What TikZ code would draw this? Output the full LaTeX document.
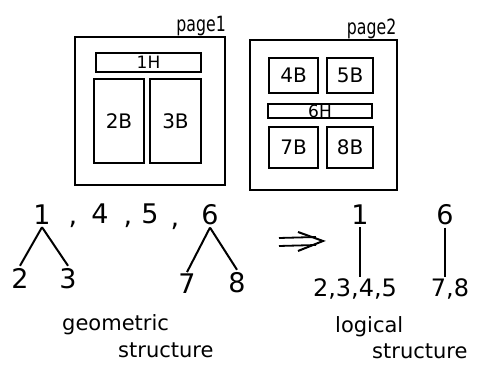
\documentclass[tikz,border=0pt]{standalone}
\usepackage{fontspec}
\setmainfont{DejaVu Sans}
\usetikzlibrary{positioning,arrows.meta,calc}

\begin{document}
\begin{tikzpicture}[x=1pt,y=-1pt,
  frame/.style={draw,line width=2pt,inner sep=0pt},
  blk/.style={draw,line width=1.8pt,inner sep=0pt,font=\fontsize{20}{22}\selectfont},
  hdr/.style={draw,line width=1.6pt,inner sep=0pt,font=\fontsize{17}{17}\selectfont},
  tag/.style={inner sep=0pt,transform shape,xscale=0.75,font=\fontsize{21}{22}\selectfont},
  num/.style={anchor=base,inner sep=2pt,font=\fontsize{27}{28}\selectfont},
  lst/.style={anchor=base,inner sep=2pt,font=\fontsize{24}{26}\selectfont},
  lbl/.style={anchor=base west,inner sep=0pt,font=\fontsize{21}{24}\selectfont},
  edge/.style={line width=2pt}]
  \useasboundingbox (0,0) rectangle (487,371);
  % page 1
  \node[frame,minimum width=150,minimum height=148] (p1) at (150,111) {};
  \node[tag,anchor=south east] (t1) at (p1.north east) {page1};
  \node[hdr,minimum width=105,minimum height=19] (h1) at (148.5,62.5) {1H};
  \node[blk,minimum width=50,minimum height=84] (b2) at (119,121) {2B};
  \node[blk,minimum width=51,minimum height=84] (b3) at (175.5,121) {3B};
  % page 2
  \node[frame,minimum width=147,minimum height=150] (p2) at (323.5,115) {};
  \node[tag,anchor=south east,xshift=-2] (t2) at (p2.north east) {page2};
  \node[blk,minimum width=49,minimum height=35] (b4) at (293.5,75.5) {4B};
  \node[blk,minimum width=46,minimum height=35] (b5) at (350,75.5) {5B};
  \node[hdr,minimum width=104,minimum height=14] (h6) at (320,111) {6H};
  \node[blk,minimum width=49,minimum height=41] (b7) at (293.5,147.5) {7B};
  \node[blk,minimum width=46,minimum height=41] (b8) at (350,147.5) {8B};
  % geometric structure
  \node[num] (g1) at (42,225) {1};
  \node[num] (c1) at (73,225) {,};
  \node[num] (g4) at (100,224) {4};
  \node[num] (c2) at (128,225) {,};
  \node[num] (g5) at (150,224) {5};
  \node[num] (c3) at (175,227) {,};
  \node[num] (g6) at (210,225) {6};
  \node[num] (g2) at (20,288) {2};
  \node[num] (g3) at (68,288) {3};
  \node[num] (g7) at (187,294) {7};
  \node[num] (g8) at (237,292) {8};
  \foreach \a/\b in {g1/g2,g1/g3,g6/g7,g6/g8}
    \draw[edge] (\a.south) -- (\b.north);
  \node[lbl] (geo) at (62,330) {geometric};
  \node[lbl] (gst) at (118,357) {structure};
  % arrow
  \coordinate (arrS) at (279,242);
  \coordinate (arrE) at (323,241);
  \draw[line width=1.8pt] ($(arrS)+(0,-4)$) -- ($(arrE)+(-7,-4)$)
    ($(arrS)+(0,4)$) -- ($(arrE)+(-7,4)$);
  \draw[line width=2pt,line join=miter] ($(arrE)+(-25,-9)$) -- (arrE) -- ($(arrE)+(-25,10)$);
  % logical structure
  \node[num] (l1) at (360,225) {1};
  \node[num] (l6) at (445,225) {6};
  \node[lst] (l2) at (355,297) {2,3,4,5};
  \node[lst] (l7) at (450,297) {7,8};
  \draw[edge] (l1.south) -- (l1.south |- l2.north);
  \draw[edge] (l6.south) -- (l6.south |- l7.north);
  \node[lbl] (log) at (335,332) {logical};
  \node[lbl] (lst) at (372,358) {structure};
\end{tikzpicture}
\end{document}
